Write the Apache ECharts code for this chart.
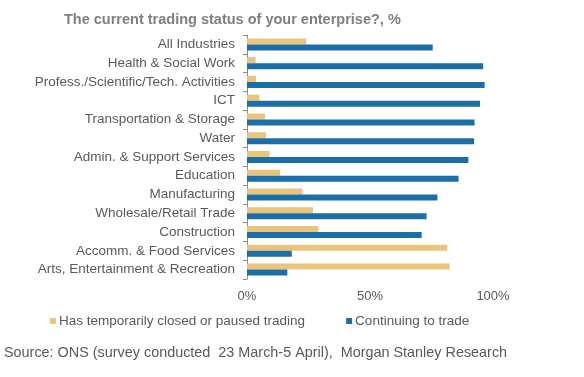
<!DOCTYPE html>
<html>
<head>
<meta charset="utf-8">
<script src="https://cdn.jsdelivr.net/npm/echarts@6/dist/echarts.min.js"></script>
<style>
  html, body { margin: 0; padding: 0; background: #fff; }
  #chart { width: 584px; height: 377px; }
</style>
</head>
<body>
<div id="chart"></div>
<script>
// data (percent of enterprises)
var industries = [
  'All Industries',
  'Health & Social Work',
  'Profess./Scientific/Tech. Activities',
  'ICT',
  'Transportation & Storage',
  'Water',
  'Admin. & Support Services',
  'Education',
  'Manufacturing',
  'Wholesale/Retail Trade',
  'Construction',
  'Accomm. & Food Services',
  'Arts, Entertainment & Recreation'
];
var closedPaused = [24, 3.5, 3.7, 5, 7.3, 7.7, 9.2, 13.5, 22.5, 26.8, 29, 81.4, 82.4];
var continuing   = [75.5, 96, 96.6, 94.7, 92.5, 92.3, 90, 86, 77.4, 73, 71, 18.2, 16.4];
var xTicks = [0, 50, 100];

var seriesNames = ['Has temporarily closed or paused trading', 'Continuing to trade'];

var myChart = echarts.init(document.getElementById('chart'));

var option = {
  animation: false,
  textStyle: { fontFamily: 'Liberation Sans, Arial, sans-serif' },
  title: [
    {
      text: 'The current trading status of your enterprise?, %',
      left: 59,
      top: 7,
      textStyle: { fontSize: 14.5, fontWeight: 'bold', color: '#7f7f7f' }
    },
    {
      text: 'Source: ONS (survey conducted  23 March-5 April),  Morgan Stanley Research',
      left: -1,
      top: 341,
      textStyle: { fontSize: 14.4, fontWeight: 'normal', color: '#595959' }
    }
  ],
  legend: {
    left: 45,
    top: 309,
    itemWidth: 6,
    itemHeight: 6,
    itemGap: 41,
    icon: 'rect',
    textStyle: { fontSize: 13.5, color: '#595959', padding: [0, 0, 0, -2] },
    data: seriesNames
  },
  grid: {
    left: 247,
    top: 35,
    width: 246,
    height: 244,
    containLabel: false
  },
  xAxis: {
    type: 'value',
    min: 0,
    max: 100,
    interval: 50,
    axisLine: { show: false },
    axisTick: { show: false },
    splitLine: { show: false },
    axisLabel: {
      fontSize: 13,
      color: '#595959',
      margin: 11,
      formatter: function (v) { return xTicks.indexOf(v) >= 0 ? v + '%' : ''; }
    }
  },
  yAxis: {
    type: 'category',
    inverse: true,
    data: industries,
    axisLine: { show: true, lineStyle: { color: '#8c8c8c', width: 1 } },
    axisTick: { show: true, length: 4, lineStyle: { color: '#8c8c8c' } },
    axisLabel: { fontSize: 13.5, color: '#595959', margin: 12 },
    splitLine: { show: false }
  },
  series: [
    {
      name: seriesNames[0],
      type: 'bar',
      barWidth: 6,
      barGap: '0%',
      itemStyle: { color: '#E9C47A' },
      data: closedPaused
    },
    {
      name: seriesNames[1],
      type: 'bar',
      barWidth: 6,
      barGap: '0%',
      itemStyle: { color: '#1B6EA6' },
      data: continuing
    }
  ]
};

myChart.setOption(option);
</script>
</body>
</html>
